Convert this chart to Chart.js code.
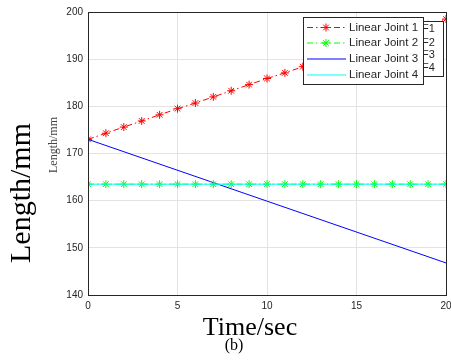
<!DOCTYPE html>
<html>
<head>
<meta charset="utf-8">
<script src="https://cdn.jsdelivr.net/npm/chart.js@4"></script>
<style>
  html, body { margin: 0; padding: 0; background: #fff; }
  #wrap { width: 451px; height: 362px; }
</style>
</head>
<body>
<div id="wrap"><canvas id="joints" width="451" height="362"></canvas></div>
<script>
// ── DATA ────────────────────────────────────────────────────────────────────
const timeSec   = [0, 1, 2, 3, 4, 5, 6, 7, 8, 9, 10, 11, 12, 13, 14, 15, 16, 17, 18, 19, 20];
const joint1    = [173.0, 174.3, 175.6, 176.9, 178.2, 179.5, 180.7, 182.0, 183.3, 184.6, 185.9,
                   187.1, 188.4, 189.7, 191.0, 192.3, 193.5, 194.8, 196.1, 197.3, 198.5];
const joint2    = [163.5, 163.5, 163.5, 163.5, 163.5, 163.5, 163.5, 163.5, 163.5, 163.5, 163.5,
                   163.5, 163.5, 163.5, 163.5, 163.5, 163.5, 163.5, 163.5, 163.5, 163.5];
const lineTimes = [0, 20];
const joint3    = [173.0, 146.8];
const joint4    = [163.5, 163.5];
const xTicks    = [0, 5, 10, 15, 20];
const yTicks    = [140, 150, 160, 170, 180, 190, 200];
const seriesNames = ['Linear Joint 1', 'Linear Joint 2', 'Linear Joint 3', 'Linear Joint 4'];
const hiddenNames = ['F1', 'F2', 'F3', 'F4'];

const toPoints = (xs, ys) => xs.map((x, i) => ({ x, y: ys[i] }));

const DASH_DOT = [6, 3, 1.5, 3];
const AXIS = '#262626';
const SANS = "'Liberation Sans', Arial, sans-serif";
const SERIF = "'Liberation Serif', 'Times New Roman', serif";

const styles = [
  { color: '#ff0000', dash: DASH_DOT, marker: true },
  { color: '#00ff00', dash: DASH_DOT, marker: true },
  { color: '#0000ff', dash: [],       marker: false },
  { color: '#00ffff', dash: [],       marker: false },
];

// ── PLUGIN: frame, hand-placed titles, MATLAB-like legend ──────────────────
const decorations = {
  id: 'decorations',
  afterDatasetsDraw(chart) {
    const { ctx, chartArea: a } = chart;
    ctx.save();
    // plot frame
    ctx.strokeStyle = AXIS;
    ctx.lineWidth = 1;
    ctx.strokeRect(a.left + 0.5, a.top + 0.5, a.right - a.left, a.bottom - a.top);

    // back legend (mostly hidden)
    ctx.fillStyle = '#fff';
    ctx.fillRect(380, 21, 63, 55);
    ctx.strokeRect(380.5, 21.5, 63, 55);
    ctx.fillStyle = AXIS;
    ctx.font = '11px ' + SANS;
    ctx.textBaseline = 'middle';
    ctx.textAlign = 'left';
    [29, 43, 55, 68].forEach((y, i) => ctx.fillText(hiddenNames[i], 422, y));

    // front legend
    ctx.fillStyle = '#fff';
    ctx.fillRect(303, 17, 120, 67);
    ctx.strokeRect(303.5, 17.5, 120, 67);
    ctx.font = '11.5px ' + SANS;
    [27.5, 43, 59, 75].forEach((y, i) => {
      const s = styles[i];
      ctx.strokeStyle = s.color;
      ctx.lineWidth = 1;
      ctx.setLineDash(s.dash);
      ctx.beginPath();
      ctx.moveTo(307, y);
      ctx.lineTo(346, y);
      ctx.stroke();
      ctx.setLineDash([]);
      if (s.marker) {
        const r = 4;
        ctx.beginPath();
        ctx.moveTo(326 - r, y); ctx.lineTo(326 + r, y);
        ctx.moveTo(326, y - r); ctx.lineTo(326, y + r);
        const d = r * 0.707;
        ctx.moveTo(326 - d, y - d); ctx.lineTo(326 + d, y + d);
        ctx.moveTo(326 - d, y + d); ctx.lineTo(326 + d, y - d);
        ctx.stroke();
      }
      ctx.fillStyle = AXIS;
      ctx.fillText(seriesNames[i], 349, y);
    });

    // axis titles
    ctx.fillStyle = '#000';
    ctx.textAlign = 'center';
    ctx.textBaseline = 'alphabetic';
    ctx.save();
    ctx.translate(30, 193);
    ctx.rotate(-Math.PI / 2);
    ctx.font = '30px ' + SERIF;
    ctx.fillText('Length/mm', 0, 0);
    ctx.restore();
    ctx.save();
    ctx.translate(57, 145);
    ctx.rotate(-Math.PI / 2);
    ctx.font = '12px ' + SERIF;
    ctx.fillStyle = '#444';
    ctx.fillText('Length/mm', 0, 0);
    ctx.restore();
    ctx.font = '26px ' + SERIF;
    ctx.fillText('Time/sec', 250, 335);
    ctx.font = '16px ' + SERIF;
    ctx.fillText('(b)', 234, 350);
    ctx.restore();
  }
};

function buildDataset(label, xs, ys, style, order) {
  return {
    label,
    data: toPoints(xs, ys),
    borderColor: style.color,
    backgroundColor: style.color,
    borderWidth: 1,
    borderDash: style.dash,
    pointStyle: 'star',
    pointRadius: style.marker ? 4 : 0,
    pointBorderWidth: 1,
    pointBorderColor: style.color,
    showLine: true,
    tension: 0,
    order,
  };
}

new Chart(document.getElementById('joints'), {
  type: 'scatter',
  data: {
    datasets: [
      buildDataset(seriesNames[0], timeSec, joint1, styles[0], 4),
      buildDataset(seriesNames[1], timeSec, joint2, styles[1], 2),
      buildDataset(seriesNames[2], lineTimes, joint3, styles[2], 3),
      buildDataset(seriesNames[3], lineTimes, joint4, styles[3], 1),
    ]
  },
  options: {
    responsive: false,
    animation: false,
    layout: { padding: { top: 12, right: 4, left: 0, bottom: 0 } },
    plugins: { legend: { display: false }, tooltip: { enabled: false } },
    scales: {
      x: {
        type: 'linear',
        min: 0,
        max: 20,
        afterBuildTicks: (s) => { s.ticks = xTicks.map(v => ({ value: v })); },
        afterFit: (s) => { s.height = 67; s.paddingLeft = 0; s.paddingRight = 0; },
        grid: { color: '#e3e3e3', drawTicks: false },
        border: { display: false },
        ticks: { color: AXIS, font: { family: SANS, size: 10 }, padding: 5, maxRotation: 0 },
      },
      y: {
        type: 'linear',
        min: 140,
        max: 200,
        afterBuildTicks: (s) => { s.ticks = yTicks.map(v => ({ value: v })); },
        afterFit: (s) => { s.width = 88; s.paddingTop = 0; s.paddingBottom = 0; },
        grid: { color: '#e3e3e3', drawTicks: false },
        border: { display: false },
        ticks: { color: AXIS, font: { family: SANS, size: 10 }, padding: 5 },
      }
    }
  },
  plugins: [decorations]
});
</script>
</body>
</html>
